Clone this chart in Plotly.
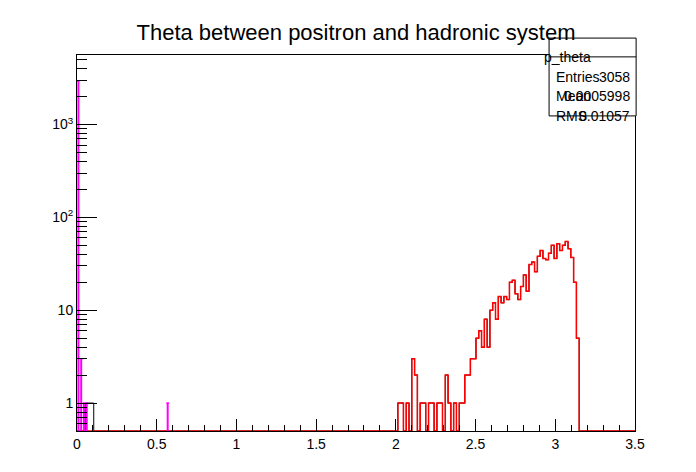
import plotly.graph_objects as go
import numpy as np

# histogram: 200 bins on [0, 3.5]
bin_width = 0.0175
n_bins = 200

# red histogram counts, bins 115..180
red_start = 115
red_counts = [1, 1, 0, 1, 0, 3, 2, 0, 1, 1, 0, 1, 1, 0, 1, 1, 0, 2, 1, 0,
              1, 0, 1, 1, 2, 2, 3, 3, 5, 6, 4, 8, 4, 10, 12, 8, 14, 12, 14, 13,
              20, 21, 15, 13, 18, 24, 16, 31, 33, 26, 38, 44, 36, 35, 41, 50, 36, 52, 44, 50,
              55, 46, 37, 20, 5, 0]

# black (total) extra bins near zero
black_bins = [3, 4, 5]
black_counts = [1, 1, 1]

# magenta spikes
mag_bins = [0, 1, 2, 3, 32]
mag_counts = [2950, 3, 1, 1, 1]

ymin = 0.5
edges = np.arange(n_bins + 1) * bin_width

def step(counts):
    c = np.maximum(np.asarray(counts, float), ymin)
    return edges, np.append(c, c[-1])

red = np.zeros(n_bins)
red[red_start:red_start + len(red_counts)] = red_counts
black = red.copy()
black[black_bins] = black_counts
mag = np.zeros(n_bins)
mag[mag_bins] = mag_counts

fig = go.Figure()
for arr, col, w in [(black, "black", 1), (red, "red", 1.5)]:
    x, y = step(arr)
    fig.add_trace(go.Scatter(x=x, y=y, mode="lines", line=dict(color=col, width=w, shape="hv"),
                             showlegend=False, hoverinfo="skip"))
for b, v in zip(mag_bins, mag_counts):
    fig.add_trace(go.Scatter(x=[edges[b], edges[b + 1]], y=[v, v], mode="lines",
                             line=dict(color="magenta", width=1.5, shape="hv"), showlegend=False))
    fig.add_trace(go.Scatter(x=[edges[b] + bin_width / 2] * 2, y=[ymin, v], mode="lines",
                             line=dict(color="magenta", width=2), showlegend=False))

minor_y = [v * 10 ** e for e in range(-1, 4) for v in range(2, 10) if 0.5 <= v * 10 ** e <= 6000]
fig.update_layout(
    width=696, height=472, plot_bgcolor="white", paper_bgcolor="white",
    margin=dict(l=69, r=69, t=47, b=49, autoexpand=False),
    font=dict(family="Liberation Sans, Arial", color="black", size=14),
    title=dict(text="Theta between positron and hadronic system", x=0.5, y=0.965,
               xanchor="center", font=dict(size=22)),
    xaxis=dict(range=[0, 3.5], tickvals=[0, 0.5, 1, 1.5, 2, 2.5, 3, 3.5],
               ticktext=["0", "0.5", "1", "1.5", "2", "2.5", "3", "3.5"],
               ticks="inside", ticklen=12, tickcolor="black", showgrid=False, zeroline=False,
               showline=True, linecolor="black", mirror=True,
               minor=dict(dtick=0.1, ticks="inside", ticklen=6, tickcolor="black")),
    yaxis=dict(type="log", range=[np.log10(ymin), np.log10(5600)],
               tickvals=[1, 10, 100, 1000], ticktext=["1", "10", "10<sup>2</sup>", "10<sup>3</sup>"],
               ticks="inside", ticklen=20, tickcolor="black", showgrid=False, zeroline=False,
               showline=True, linecolor="black", mirror=True,
               minor=dict(tickvals=minor_y, ticks="inside", ticklen=10, tickcolor="black")),
)

# stats box
x0, x1, y0, y1, yh = 0.846, 1.002, 0.838, 1.045, 0.995
fig.add_shape(type="rect", xref="paper", yref="paper", x0=x0, x1=x1, y0=y0, y1=y1,
              line=dict(color="black", width=1), fillcolor="white")
fig.add_shape(type="line", xref="paper", yref="paper", x0=x0, x1=x1, y0=yh, y1=yh,
              line=dict(color="black", width=1))
fig.add_annotation(xref="paper", yref="paper", x=(x0 + x1) / 2, y=(yh + y1) / 2,
                   text="p_theta", showarrow=False, font=dict(size=14))
stats = [("Entries", "3058"), ("Mean", "0.0005998"), ("RMS", "0.01057")]
for i, (k, v) in enumerate(stats):
    yy = yh - (yh - y0) * (i + 0.5) / 3
    fig.add_annotation(xref="paper", yref="paper", x=x0 + 0.008, y=yy, text=k,
                       xanchor="left", showarrow=False, font=dict(size=14))
    fig.add_annotation(xref="paper", yref="paper", x=x1 - 0.008, y=yy, text=v,
                       xanchor="right", showarrow=False, font=dict(size=14))

fig.write_html("out.html")
